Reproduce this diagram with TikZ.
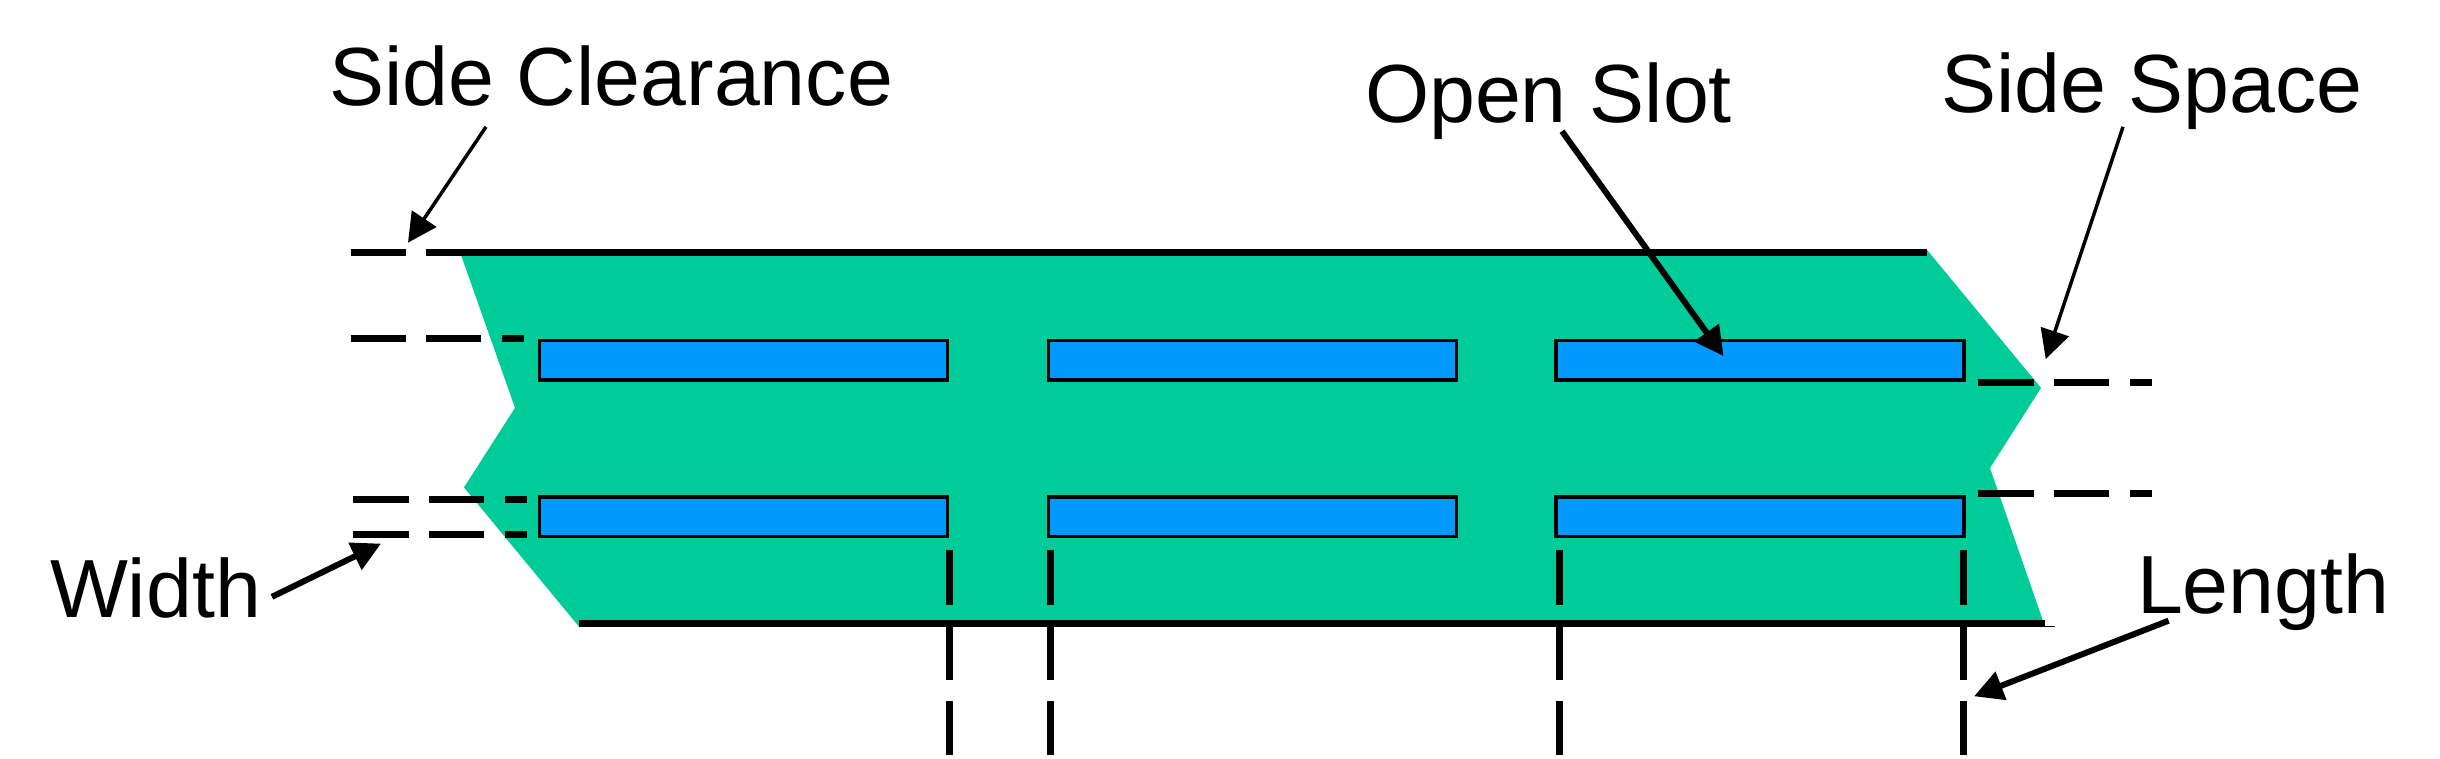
\documentclass[tikz,border=0pt]{standalone}
\usepackage{fontspec}
\setmainfont{Liberation Sans}
\usetikzlibrary{arrows.meta}
\definecolor{boardgreen}{HTML}{00CC99}
\definecolor{slotblue}{HTML}{0099FF}
\tikzset{
  x=1pt,y=-0.9947pt,
  label text/.style={anchor=base west,inner sep=0pt,outer sep=0pt,font=\fontsize{82.5}{90}\selectfont},
  slot/.style={draw=black,line width=3.5pt,fill=slotblue,minimum height=39.5pt,inner sep=0pt,outer sep=0pt,anchor=north west},
  edge line/.style={line width=7pt,black},
  guide/.style={line width=7pt,black},
  pointer thin/.style={line width=3.5pt,-{Triangle[length=29pt,width=29pt]}},
  pointer thick/.style={line width=6pt,-{Triangle[length=29pt,width=29pt]}},
}
\begin{document}
\begin{tikzpicture}
\useasboundingbox (0,0) rectangle (2440,763.03);
% board
\fill[boardgreen] (460,253.5) -- (515,410) -- (464,490) -- (579,630) -- (2045,630)
  -- (1990,470.5) -- (2041,390) -- (1926.5,250.6) -- cycle;
% slots
\node[slot,minimum width=408pt] (s11) at (539.5,342.5) {};
\node[slot,minimum width=408pt] (s12) at (1048.5,342.5) {};
\node[slot,minimum width=408pt] (s13) at (1556,342.5) {};
\node[slot,minimum width=408pt] (s21) at (539.5,499.5) {};
\node[slot,minimum width=408pt] (s22) at (1048.5,499.5) {};
\node[slot,minimum width=408pt] (s23) at (1556,499.5) {};
% board edges
\draw[edge line] (426,253.5) -- (1927,253.5);
\draw[edge line] (579,626.5) -- (2045,626.5);
\draw[line width=1.5pt] (2045,630) -- (2055,630);
% horizontal guides, left
\draw[guide] (350.5,253.5) -- (405.5,253.5);
\draw[guide] (350.5,340) -- (405.5,340) (426,340) -- (481,340) (502,340) -- (524,340);
\draw[guide] (353,502) -- (408.5,502) (429,502) -- (484,502) (505,502) -- (527,502);
\draw[guide] (353,537) -- (408.5,537) (429,537) -- (484,537) (505,537) -- (527,537);
% horizontal guides, right
\draw[guide] (1978,384.5) -- (2033.5,384.5) (2054,384.5) -- (2109,384.5) (2130,384.5) -- (2152,384.5);
\draw[guide] (1978,496) -- (2033.5,496) (2054,496) -- (2109,496) (2130,496) -- (2152,496);
% vertical guides
\foreach \x in {949,1050,1559,1963}{
  \draw[guide] (\x,553) -- (\x,608) (\x,630) -- (\x,684) (\x,705) -- (\x,759);
}
% labels
\node[label text] (clearance) at (329,106.5) {Side Clearance};
\node[label text] (openslot) at (1365,123) {Open Slot};
\node[label text] (sidespace) at (1941,113.5) {Side Space};
\node[label text] (width) at (50,620.5) {Width};
\node[label text] (length) at (2137,617) {Length};
% pointer ends
\coordinate (c0) at (486,127.5);
\coordinate (c1) at (408,244);
\coordinate (o0) at (1562,132);
\coordinate (o1) at (1723.5,358);
\coordinate (p0) at (2123,127.5);
\coordinate (p1) at (2045.7,361);
\coordinate (w0) at (272,600);
\coordinate (w1) at (381,546.5);
\coordinate (l0) at (2168.6,624);
\coordinate (l1) at (1974,700);
\draw[pointer thin] (c0) -- (c1);
\draw[pointer thick] (o0) -- (o1);
\draw[pointer thin] (p0) -- (p1);
\draw[pointer thick] (w0) -- (w1);
\draw[pointer thick] (l0) -- (l1);
\end{tikzpicture}
\end{document}
